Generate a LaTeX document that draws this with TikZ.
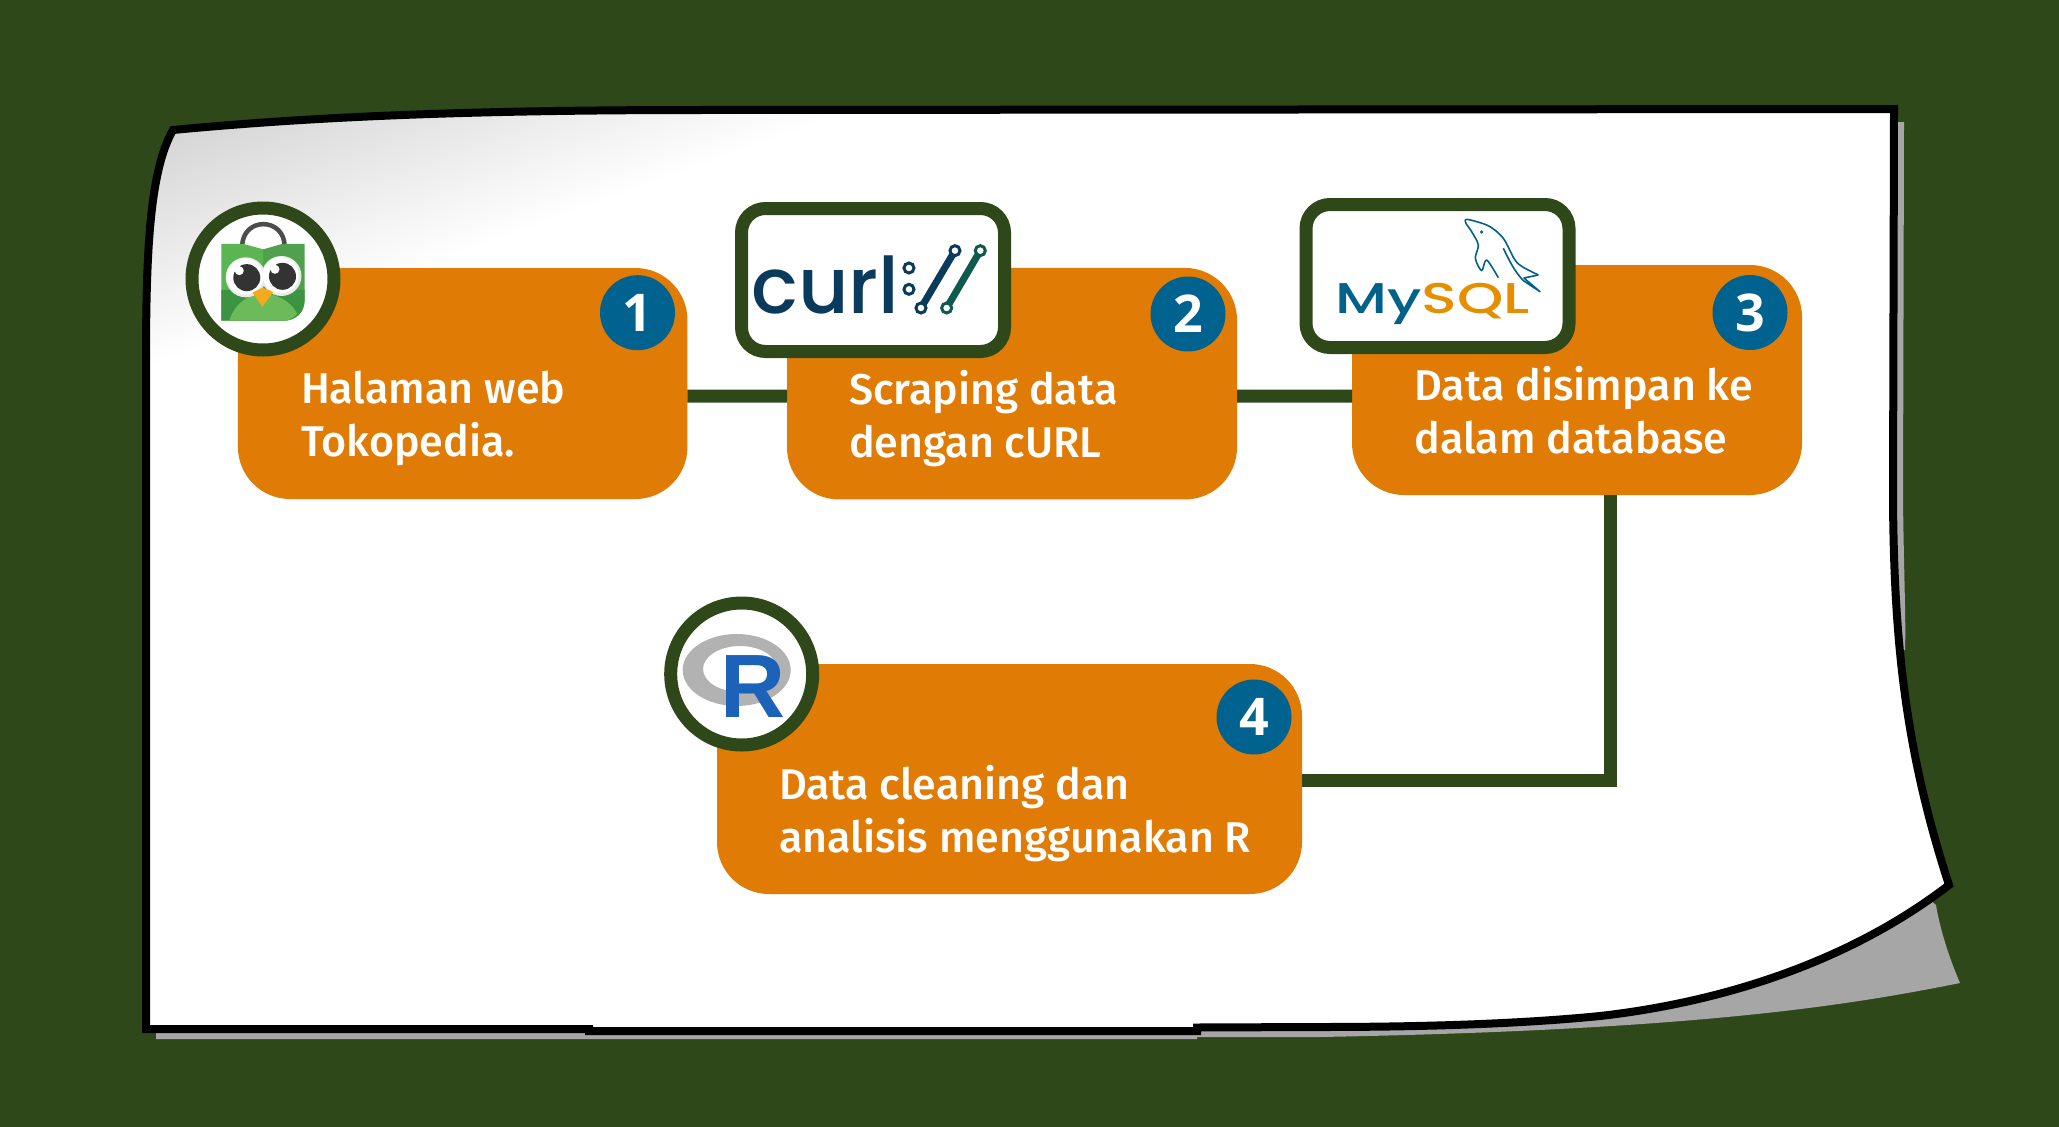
\documentclass[tikz,border=0pt]{standalone}
\usepackage{fontspec}
\setmainfont{Fira Sans}
\newfontfamily\lblfont{Fira Sans Medium}
\newfontfamily\numfont{Open Sans}
\newfontfamily\curlfont{Poppins Medium}
\newfontfamily\mysqlfont{Poppins Medium}
\newfontfamily\rfont{Liberation Sans}
\usetikzlibrary{calc}
\definecolor{bgc}{HTML}{2F4819}
\definecolor{orangec}{HTML}{E07B05}
\definecolor{bluec}{HTML}{00628F}
\definecolor{shadowc}{HTML}{A6A6A6}
\definecolor{curlblue}{HTML}{0A3A5C}
\definecolor{curlgreen}{HTML}{0F5A4C}
\definecolor{mysqlblue}{HTML}{00618A}
\definecolor{mysqlorange}{HTML}{E48E00}
\tikzset{
 card/.style={rectangle,rounded corners=52pt,fill=orangec,inner sep=0pt,outer sep=0pt},
 badge/.style={circle,fill=bluec,minimum size=75pt,inner sep=0pt,outer sep=0pt,text=white,font=\numfont\bfseries\fontsize{52}{52}\selectfont},
 ringframe/.style={circle,draw=bgc,fill=white,line width=13pt,minimum size=142pt,inner sep=0pt,outer sep=0pt},
 boxframe/.style={rectangle,draw=bgc,fill=white,line width=13pt,rounded corners=24pt,minimum width=263pt,minimum height=143pt,inner sep=0pt,outer sep=0pt},
 conn/.style={draw=bgc,line width=13pt},
 lbl/.style={anchor=base west,align=left,inner sep=0pt,outer sep=0pt,text=white,font=\lblfont\fontsize{43}{52.5}\selectfont},
}
\def\paperpath{(173,130) .. controls (300,118) and (450,110) .. (700,110) -- (1894,109) -- (1893,500) .. controls (1894,640) and (1905,750) .. (1949,885) .. controls (1845,965) and (1715,1003) .. (1600,1016) .. controls (1520,1024) and (1420,1027) .. (1320,1027) -- (1197,1027.5) -- (1197,1031) -- (589,1031) -- (589,1029) -- (146,1029) -- (146,360) .. controls (146,250) and (150,170) .. (173,130) -- cycle}
\begin{document}
\begin{tikzpicture}[x=1pt,y=-1pt]
\useasboundingbox (0,0) rectangle (2059,1127);
\fill[bgc] (0,0) rectangle (2059,1127);
% paper shadow
\fill[shadowc] (1890,122) -- (1904,122) -- (1903,500) .. controls (1904,580) and (1906,620) .. (1905,650) -- (1890,650) -- cycle;
\fill[shadowc] (1930,900) -- (1936,905) .. controls (1940,930) and (1950,960) .. (1960,983) .. controls (1850,1005) and (1700,1030) .. (1320,1037) -- (1197,1037) -- (1197,1039) -- (156,1039) -- (156,1020) -- (1320,1020) -- cycle;
% paper
\fill[white] \paperpath;
\begin{scope}
\clip \paperpath;
\begin{scope}[transform canvas={rotate around={20:(173,130)}}]
\shade[top color=black!18,bottom color=white] (-100,110) rectangle (1100,345);
\end{scope}
\end{scope}
\draw[black,line width=8pt,line join=miter] \paperpath;
% cards
\node[card,minimum width=449.5pt,minimum height=231pt] (b1) at (462.7,383.5) {};
\node[card,minimum width=450pt,minimum height=231.5pt] (b2) at (1012,383.7) {};
\node[card,minimum width=450pt,minimum height=230pt] (b3) at (1577,380) {};
\node[card,minimum width=585pt,minimum height=230pt] (b4) at (1009.5,779) {};
% connectors
\draw[conn] ([yshift=-12.5pt]b1.east) -- ([yshift=-12.5pt]b2.west);
\draw[conn] ([yshift=-12.5pt]b2.east) -- ([yshift=-16pt]b3.west);
\draw[conn] ([xshift=33pt]b3.south) |- ([yshift=-1pt]b4.east);
% labels
\node[lbl] (t1) at (301,456) {Halaman web\\Tokopedia.};
\node[lbl] (t2) at (849,457) {Scraping data\\dengan cURL};
\node[lbl] (t3) at (1414.5,453) {Data disimpan ke\\dalam database};
\node[lbl] (t4) at (779,852) {Data cleaning dan\\analisis menggunakan R};
% badges
\node[badge] (n1) at (637.5,312.7) {1};
\node[badge] (n2) at (1188,314) {2};
\node[badge] (n3) at (1750,312.5) {3};
\node[badge] (n4) at (1254,717) {4};
% tokopedia
\node[ringframe] (tk) at (263,279) {};
\begin{scope}[shift={(150,90)},x=0.35714pt,y=-0.3333pt]
\draw[black!70,line width=4.5pt] (258,470) .. controls (258,380) and (377,380) .. (377,470);
\fill[fill={rgb,255:red,80;green,160;blue,78}] (317,478) -- (370,462) -- (433,462) -- (433,630) .. controls (433,670) and (405,692) .. (375,692) -- (317,692) -- cycle;
\fill[fill={rgb,255:red,90;green,181;blue,82}] (317,478) -- (262,462) -- (200,462) -- (200,692) -- (317,692) -- cycle;
\fill[fill={rgb,255:red,61;green,148;blue,64}] (200,600) -- (433,600) -- (433,630) .. controls (433,670) and (405,692) .. (375,692) -- (200,692) -- cycle;
\fill[fill={rgb,255:red,108;green,187;blue,90}] (222,692) .. controls (240,630) and (290,610) .. (317,610) .. controls (345,610) and (395,630) .. (412,672) .. controls (400,685) and (390,692) .. (375,692) -- cycle;
\fill[black!8] (268,562) circle[radius=20pt];
\fill[black!8] (368,558) circle[radius=20pt];
\fill[white] (266,560) circle[radius=18pt];
\fill[white] (366,556) circle[radius=18pt];
\fill[black!80] (271,563) circle[radius=13.5pt];
\fill[black!80] (371,559) circle[radius=13.5pt];
\fill[white] (250,542) circle[radius=4.5pt];
\fill[white] (350,538) circle[radius=4.5pt];
\fill[fill={rgb,255:red,245;green,170;blue,30}] (287,608) -- (315,593) -- (345,606) -- (315,650) -- cycle;
\end{scope}
% curl
\node[boxframe] (cf) at (873,280) {};
\node[anchor=base west,inner sep=0pt,text=curlblue,font=\curlfont\fontsize{78}{78}\selectfont] (curlw) at (751,313) {curl};
\begin{scope}[shift={(720,180)},x=0.3333pt,y=-0.3333pt]
\draw[curlblue,line width=3pt] (567,264) circle[radius=5pt];
\draw[curlblue,line width=3pt] (567,328) circle[radius=5pt];
\draw[curlblue,line width=7pt] (603,384) -- (705,212);
\draw[curlgreen,line width=7pt] (680,384) -- (781,212);
\foreach \p in {(603,384),(705,212)} \filldraw[draw=curlblue,fill=white,line width=3pt] \p circle[radius=5pt];
\foreach \p in {(680,384),(781,212)} \filldraw[draw=curlgreen,fill=white,line width=3pt] \p circle[radius=5pt];
\end{scope}
% mysql
\node[boxframe] (mf) at (1437.5,276) {};
\node[anchor=base west,inner sep=0pt,font=\mysqlfont\fontsize{43}{43}\selectfont] (mysqlw) at (1335,313) {\scalebox{1.37}[1]{\textcolor{mysqlblue}{My}\textcolor{mysqlorange}{SQL}}};
\begin{scope}[shift={(1290,180)},x=0.3333pt,y=-0.3333pt]
\draw[mysqlblue,line width=1.6pt,line join=round] plot[smooth] coordinates {(625,293) (590,240) (575,272) (556,235) (565,195) (545,155) (528,130) (528,118) (560,125) (600,140) (640,175) (675,240) (700,262) (745,285)};
\draw[mysqlblue,line width=1.6pt,line join=round] (745,285) -- (702,294) -- (750,335) -- (700,302) .. controls (670,270) and (655,235) .. (640,205);
\fill[mysqlblue] (575,156) circle[radius=1.8pt];
\end{scope}
% R
\node[ringframe] (rf) at (741.7,674) {};
\fill[black!30,even odd rule] (736.7,670) ellipse[x radius=54,y radius=36] (740,669) ellipse[x radius=37,y radius=23];
\node[anchor=base west,inner sep=0pt,text={rgb,255:red,27;green,98;blue,184},font=\rfont\bfseries\fontsize{90}{90}\selectfont] (rw) at (720.5,717.7) {R};
\end{tikzpicture}
\end{document}
